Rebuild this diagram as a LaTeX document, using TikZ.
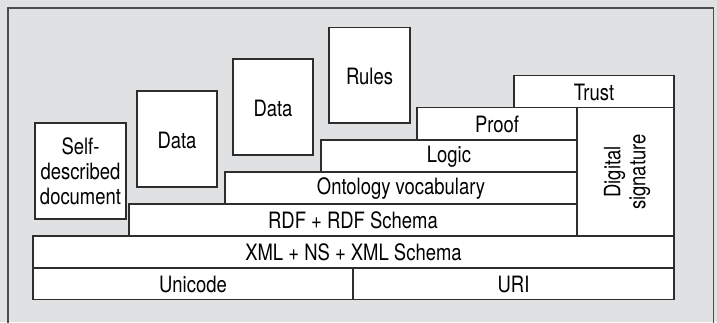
\documentclass[tikz,border=0pt]{standalone}
\usepackage{fontspec}
\setmainfont{TeX Gyre Heros}[FakeStretch=0.82]
\definecolor{panel}{RGB}{224,225,226}
\definecolor{edge}{RGB}{45,45,45}
\begin{document}
\begin{tikzpicture}[x=1pt,y=-1pt,
  layer/.style={draw=edge,line width=1.1pt,fill=white},
  txt/.style={font=\fontsize{22.5}{25}\selectfont,align=center,inner sep=0pt}]
\useasboundingbox (0,0) rectangle (717,322);
\fill[panel] (0,0) rectangle (717,322);
\draw[edge!85,line width=1.6pt] (8,323) -- (8,8) -- (713.5,8) -- (713.5,323);

% stack layers, bottom to top
\newcommand\layerbox[6]{%
  \draw[layer] (#2,#3) rectangle (#4,#5);
  \node[txt] (#1) at ({(#2+#4)/2},{(#3+#5)/2+0.5}) {#6};}
\layerbox{unicode}{33}{268}{353}{299.5}{Unicode}
\layerbox{uri}{353}{268}{674}{299.5}{URI}
\layerbox{xml}{33}{236}{674}{268}{XML + NS + XML Schema}
\layerbox{rdf}{129}{204}{577}{236}{RDF + RDF Schema}
\layerbox{onto}{225}{172}{577}{204}{Ontology vocabulary}
\layerbox{logic}{321}{140}{577}{172}{Logic}
\layerbox{proof}{417}{107.5}{577}{140}{Proof}
\layerbox{trust}{514}{75.5}{674}{107.5}{Trust}
\draw[layer] (577,107.5) rectangle (674,236);
\node[txt,rotate=90] (sig) at (627,172) {Digital\\signature};

% free-standing document boxes
\draw[layer] (35,123) rectangle (126,219);
\node[txt] (self) at (80.5,171) {Self-\\described\\document};
\draw[layer] (137,91) rectangle (217,187);
\node[txt,anchor=north] (data1) at (177,132) {Data};
\draw[layer] (233,59) rectangle (313,155);
\node[txt,anchor=north] (data2) at (273,99.5) {Data};
\draw[layer] (329,27.5) rectangle (410,123);
\node[txt,anchor=north] (rules) at (369.5,68) {Rules};
\end{tikzpicture}
\end{document}
